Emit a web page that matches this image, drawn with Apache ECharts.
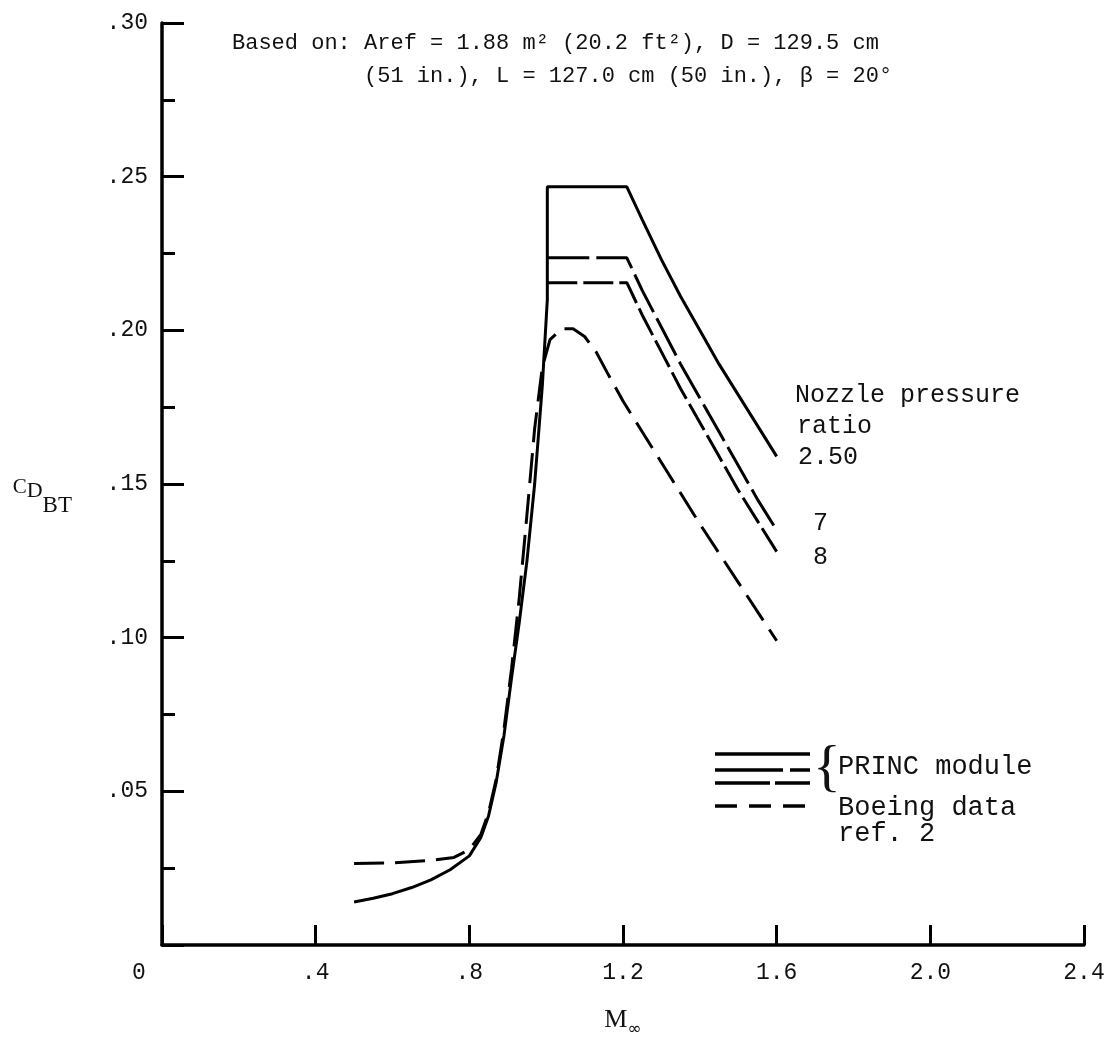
<!DOCTYPE html>
<html>
<head>
<meta charset="utf-8">
<script src="https://cdn.jsdelivr.net/npm/echarts@6/dist/echarts.min.js"></script>
<style>
  html, body { margin: 0; padding: 0; background: #fff; }
  #chart { width: 1114px; height: 1038px; }
</style>
</head>
<body>
<div id="chart"></div>
<script>
// ---- Data ----
// Nozzle pressure ratio 2.50 (PRINC module, solid)
const machNpr250 = [0.50, 0.55, 0.60, 0.65, 0.70, 0.75, 0.80, 0.83, 0.85, 0.87, 0.89, 0.91, 0.93, 0.95, 0.97, 0.99, 1.003, 1.003, 1.21, 1.25, 1.30, 1.35, 1.40, 1.45, 1.50, 1.55, 1.60];
const cdNpr250   = [0.0140, 0.0152, 0.0167, 0.0187, 0.0212, 0.0245, 0.0290, 0.035, 0.042, 0.053, 0.068, 0.087, 0.105, 0.125, 0.150, 0.182, 0.210, 0.2467, 0.2467, 0.236, 0.223, 0.211, 0.200, 0.189, 0.179, 0.169, 0.159];
// Nozzle pressure ratio 7 (PRINC module)
const machNpr7 = [1.003, 1.21, 1.25, 1.30, 1.35, 1.40, 1.45, 1.50, 1.55, 1.60];
const cdNpr7   = [0.2236, 0.2236, 0.213, 0.201, 0.189, 0.178, 0.167, 0.156, 0.145, 0.135];
// Nozzle pressure ratio 8 (PRINC module)
const machNpr8 = [1.003, 1.21, 1.25, 1.30, 1.35, 1.40, 1.45, 1.50, 1.55, 1.60];
const cdNpr8   = [0.2155, 0.2155, 0.205, 0.193, 0.181, 0.170, 0.159, 0.148, 0.138, 0.128];
// Boeing data, ref. 2
const machBoeing = [0.50, 0.60, 0.70, 0.76, 0.80, 0.83, 0.85, 0.87, 0.89, 0.91, 0.93, 0.95, 0.97, 0.99, 1.01, 1.04, 1.07, 1.10, 1.13, 1.16, 1.20, 1.30, 1.40, 1.50, 1.60];
const cdBoeing   = [0.0265, 0.0267, 0.0275, 0.0285, 0.031, 0.036, 0.043, 0.054, 0.070, 0.090, 0.113, 0.140, 0.168, 0.188, 0.197, 0.2005, 0.2005, 0.198, 0.193, 0.186, 0.177, 0.157, 0.137, 0.118, 0.099];

// Tick labels
const xTickLabels = ['0', '.4', '.8', '1.2', '1.6', '2.0', '2.4'];
const yTickLabels = ['', '.05', '.10', '.15', '.20', '.25', '.30'];
const curveLabels = ['2.50', '7', '8'];

// ---- Build ----
const pairs = (xs, ys) => xs.map((x, i) => [x, ys[i]]);
const MONO = '"Liberation Mono", "DejaVu Sans Mono", monospace';

const chart = echarts.init(document.getElementById('chart'), null, { renderer: 'canvas' });

const lineSeries = (name, xs, ys, dash) => ({
  name, type: 'line', data: pairs(xs, ys), showSymbol: false, smooth: false,
  lineStyle: { color: '#000', width: 3, type: dash, cap: 'butt' },
  z: 3
});

const txt = (x, y, text, size, extra) => Object.assign({
  type: 'text', x, y,
  style: { text, font: size + 'px ' + MONO, fill: '#111', align: 'left', verticalAlign: 'middle' },
  silent: true
}, extra || {});

const legendLine = (y, dash) => ({
  type: 'line', shape: { x1: 715, y1: y, x2: 810, y2: y },
  style: { stroke: '#000', lineWidth: 3.5, lineDash: dash }, silent: true
});

chart.setOption({
  animation: false,
  backgroundColor: '#fff',
  grid: { left: 162, right: 30, top: 23, bottom: 93, containLabel: false, outerBoundsMode: 'none' },
  xAxis: {
    type: 'value', min: 0, max: 2.4, interval: 0.4,
    name: '{m|M}{s|∞}', nameLocation: 'middle', nameGap: 62,
    nameTextStyle: {
      rich: {
        m: { fontFamily: 'Liberation Serif', fontSize: 26, color: '#111', verticalAlign: 'bottom', padding: [0, 0, 5, 0] },
        s: { fontFamily: 'DejaVu Sans', fontSize: 17, color: '#111', verticalAlign: 'bottom', padding: [0, 0, 0, 0] }
      }
    },
    axisLine: { show: true, onZero: false, lineStyle: { color: '#000', width: 3.5 } },
    axisTick: { show: true, inside: true, length: 20, lineStyle: { color: '#000', width: 3 } },
    minorTick: { show: false },
    splitLine: { show: false },
    axisLabel: {
      margin: 16, fontFamily: MONO, fontSize: 23, color: '#111',
      formatter: v => {
        const i = Math.round(v / 0.4);
        return i === 0 ? '{z|' + xTickLabels[0] + '}' : (xTickLabels[i] ?? '');
      },
      rich: { z: { fontFamily: MONO, fontSize: 23, color: '#111', padding: [0, 46, 0, 0] } }
    }
  },
  yAxis: {
    type: 'value', min: 0, max: 0.30, interval: 0.05,
    name: '{c|C}{d|D}{bt|BT}', nameLocation: 'middle', nameGap: 90, nameRotate: 0,
    nameTextStyle: {
      padding: [26, 0, 0, 0],
      rich: {
        c: { fontFamily: 'Liberation Serif', fontSize: 21, color: '#111', verticalAlign: 'bottom', padding: [0, 0, 19, 0] },
        d: { fontFamily: 'Liberation Serif', fontSize: 22, color: '#111', verticalAlign: 'bottom', padding: [0, 0, 15, 0] },
        bt: { fontFamily: 'Liberation Serif', fontSize: 23, color: '#111', verticalAlign: 'bottom', padding: [0, 0, 0, 0] }
      }
    },
    axisLine: { show: true, onZero: false, lineStyle: { color: '#000', width: 3.5 } },
    axisTick: { show: true, inside: true, length: 22, lineStyle: { color: '#000', width: 3 } },
    minorTick: { show: true, splitNumber: 2, length: 13, lineStyle: { color: '#000', width: 3 } },
    splitLine: { show: false },
    minorSplitLine: { show: false },
    axisLabel: {
      margin: 14, fontFamily: MONO, fontSize: 23, color: '#111',
      formatter: v => yTickLabels[Math.round(v / 0.05)] ?? ''
    }
  },
  series: [
    lineSeries('NPR 2.50', machNpr250, cdNpr250, 'solid'),
    lineSeries('NPR 7', machNpr7, cdNpr7, [42, 7]),
    lineSeries('NPR 8', machNpr8, cdNpr8, [30, 6]),
    lineSeries('Boeing data ref. 2', machBoeing, cdBoeing, [30, 11])
  ],
  graphic: [
    txt(232, 43, 'Based on: Aref = 1.88 m² (20.2 ft²), D = 129.5 cm', 22),
    txt(364, 76, '(51 in.), L = 127.0 cm (50 in.), β = 20°', 22),
    txt(795, 395, 'Nozzle pressure', 25),
    txt(797, 426, 'ratio', 25),
    txt(798, 457, curveLabels[0], 25),
    txt(813, 523, curveLabels[1], 25),
    txt(813, 557, curveLabels[2], 25),
    legendLine(754, null),
    legendLine(770, [68, 7]),
    legendLine(783, [55, 5]),
    legendLine(806, [22, 12]),
    {
      type: 'text', x: 813, y: 770,
      style: { text: '{', font: '58px "Liberation Serif"', fill: '#111', align: 'left', verticalAlign: 'middle' },
      silent: true
    },
    txt(838, 767, 'PRINC module', 27),
    txt(838, 808, 'Boeing data', 27),
    txt(838, 834, 'ref. 2', 27)
  ]
});
</script>
</body>
</html>
